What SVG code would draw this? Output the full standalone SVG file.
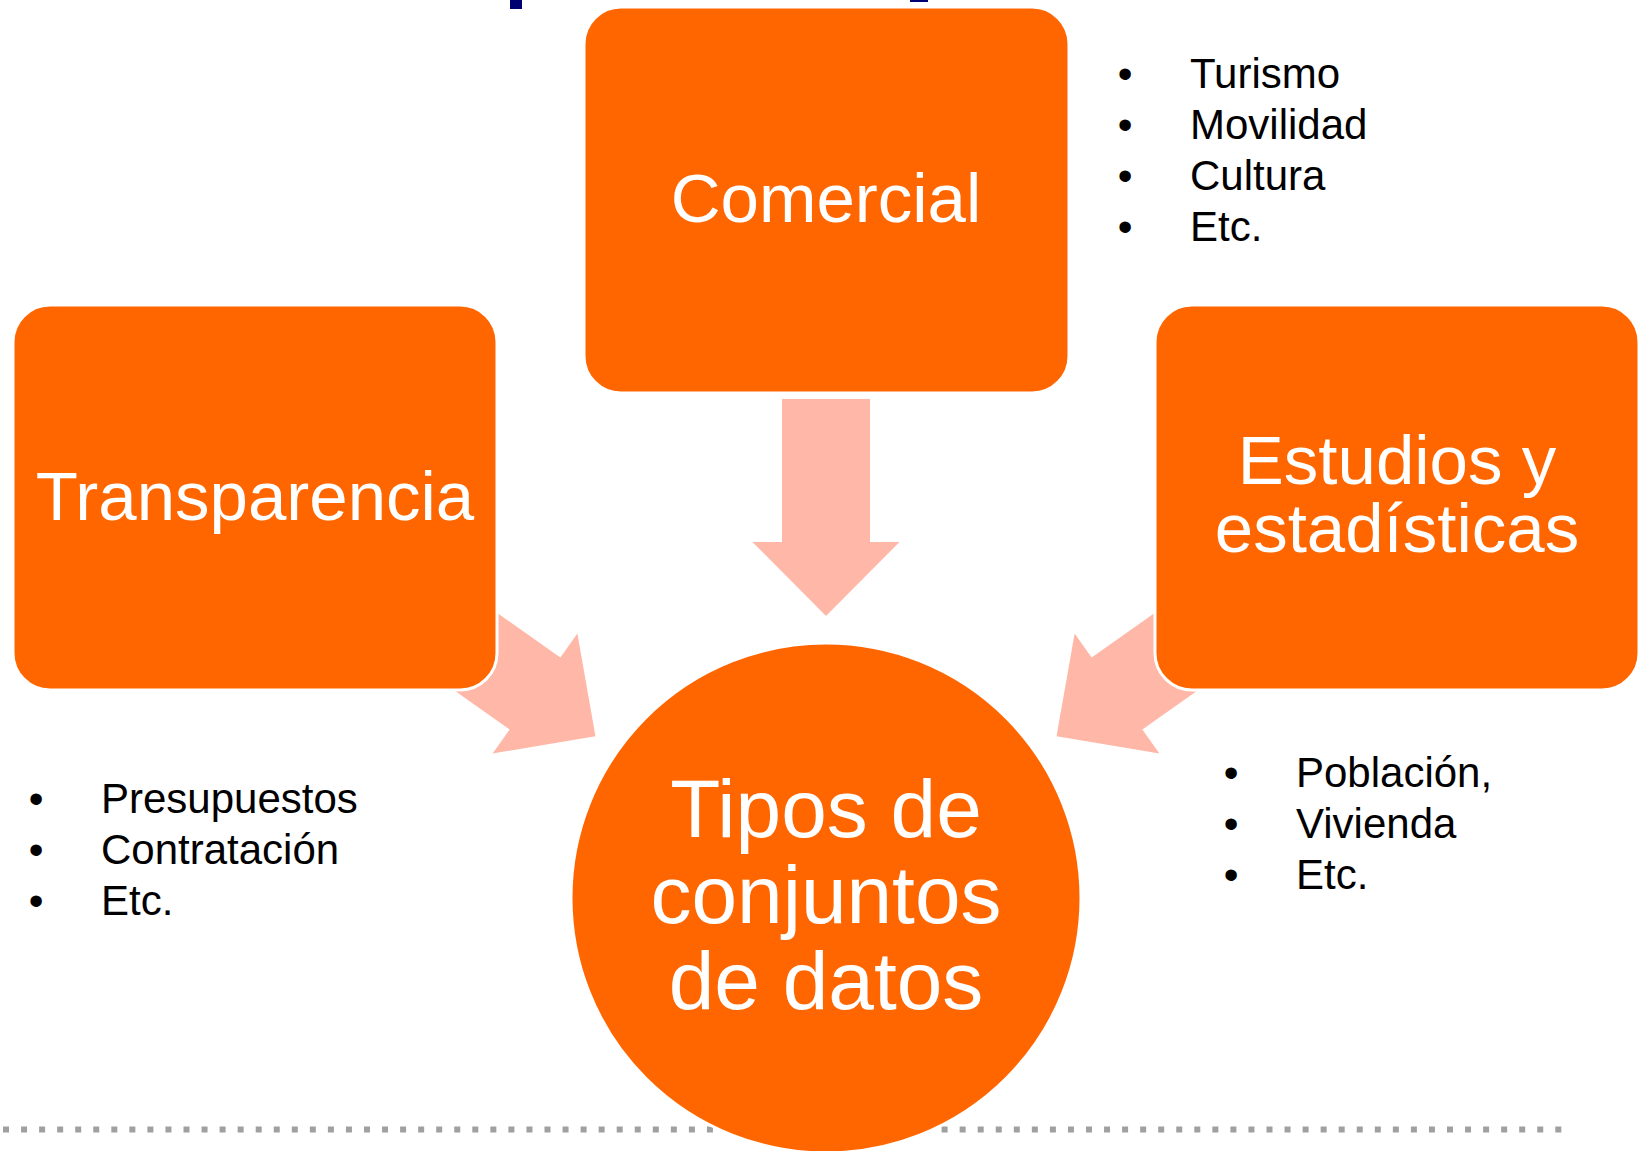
<svg xmlns="http://www.w3.org/2000/svg" width="1642" height="1151" viewBox="0 0 1642 1151">
  <defs>
    <style>
      .box { fill: #FF6600; stroke: #FFFFFF; stroke-width: 3; }
      .arrow { fill: #FFB8A8; }
      .lbl { font-family: "Liberation Sans", Arial, sans-serif; fill: #FFFFFF; text-anchor: middle; }
      .list { font-family: "Liberation Sans", Arial, sans-serif; fill: #000000; font-size: 42px; }
      .bul { text-anchor: middle; }
    </style>
    <path id="blockArrow" d="M -143 -44 L 0 -44 L 0 -73.5 L 74 0 L 0 73.5 L 0 44 L -143 44 Z"/>
  </defs>
  <rect width="1642" height="1151" fill="#FFFFFF"/>

  <!-- title remnants at top edge -->
  <rect x="510" y="0" width="12" height="9" fill="#000070"/>
  <rect x="910" y="0" width="18" height="2" fill="#000070"/>

  <!-- dotted separator -->
  <line x1="3" y1="1129.5" x2="1563" y2="1129.5" stroke="#A0A0A0" stroke-width="6" stroke-dasharray="6 12.05"/>

  <g id="connectors">
    <use href="#blockArrow" class="arrow" transform="translate(826,542) rotate(90)"/>
    <use href="#blockArrow" class="arrow" transform="translate(535,693.5) rotate(35.2)"/>
    <use href="#blockArrow" class="arrow" transform="translate(1117,693.5) rotate(144.8)"/>
  </g>

  <g id="node-comercial">
    <rect class="box" x="584" y="7" width="485" height="386" rx="37" ry="37"/>
    <text class="lbl" x="826" y="222" font-size="69">Comercial</text>
  </g>

  <g id="node-transparencia">
    <rect class="box" x="13" y="305" width="484" height="385" rx="37" ry="37"/>
    <text class="lbl" x="255" y="520" font-size="69">Transparencia</text>
  </g>

  <g id="node-estudios">
    <rect class="box" x="1155" y="305" width="484" height="385" rx="37" ry="37"/>
    <text class="lbl" x="1397" y="484" font-size="69">Estudios y</text>
    <text class="lbl" x="1397" y="552" font-size="69">estadísticas</text>
  </g>

  <g id="node-tipos">
    <circle class="box" cx="826" cy="898" r="255"/>
    <text class="lbl" x="826" y="837" font-size="82">Tipos de</text>
    <text class="lbl" x="826" y="923" font-size="82">conjuntos</text>
    <text class="lbl" x="826" y="1009" font-size="82">de datos</text>
  </g>

  <g id="list-comercial" class="list">
    <text class="bul" x="1125" y="88">•</text><text x="1190" y="88">Turismo</text>
    <text class="bul" x="1125" y="139">•</text><text x="1190" y="139">Movilidad</text>
    <text class="bul" x="1125" y="190">•</text><text x="1190" y="190">Cultura</text>
    <text class="bul" x="1125" y="241">•</text><text x="1190" y="241">Etc.</text>
  </g>

  <g id="list-transparencia" class="list">
    <text class="bul" x="36" y="813">•</text><text x="101" y="813">Presupuestos</text>
    <text class="bul" x="36" y="864">•</text><text x="101" y="864">Contratación</text>
    <text class="bul" x="36" y="915">•</text><text x="101" y="915">Etc.</text>
  </g>

  <g id="list-estudios" class="list">
    <text class="bul" x="1231" y="787">•</text><text x="1296" y="787">Población,</text>
    <text class="bul" x="1231" y="838">•</text><text x="1296" y="838">Vivienda</text>
    <text class="bul" x="1231" y="889">•</text><text x="1296" y="889">Etc.</text>
  </g>
</svg>
